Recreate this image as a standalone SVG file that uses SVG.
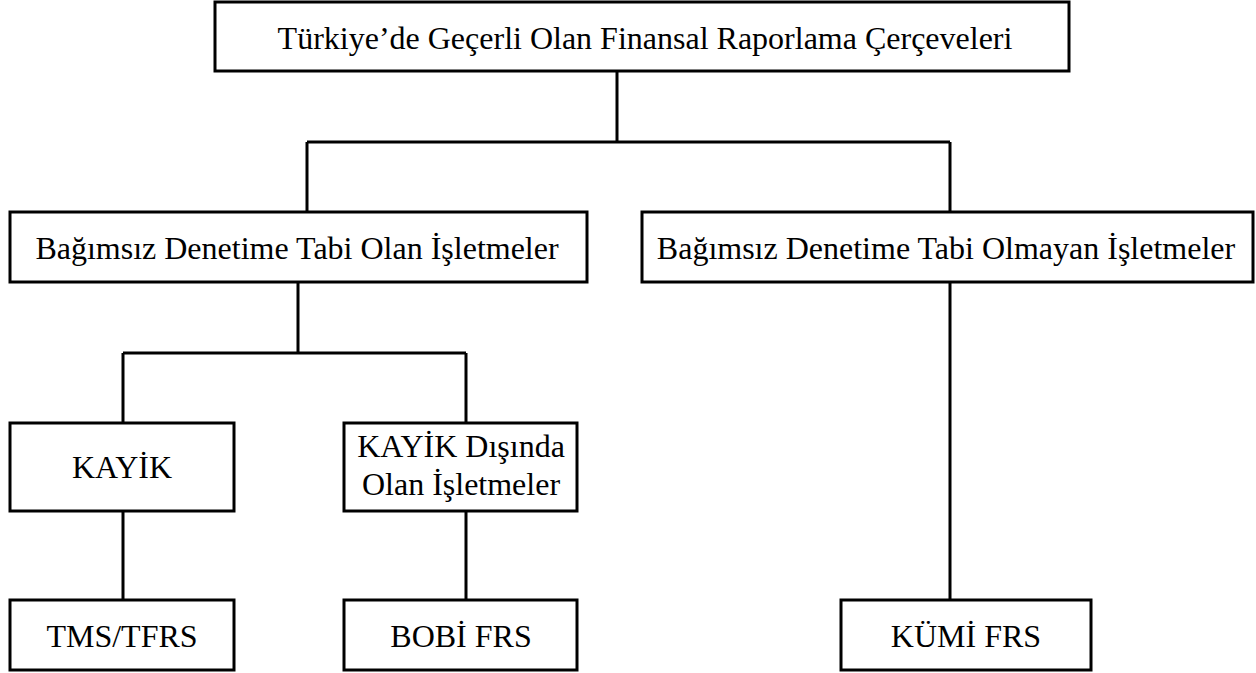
<svg xmlns="http://www.w3.org/2000/svg" width="1256" height="673" viewBox="0 0 1256 673">
<style>
.box{fill:#fff;stroke:#000;stroke-width:3}
.ln{fill:none;stroke:#000;stroke-width:3}
.t{font-family:"Liberation Serif","Times New Roman",serif;font-size:32px;fill:#000;text-anchor:middle}
</style>
<rect width="1256" height="673" fill="#fff"/>
<g id="connectors">
<path class="ln" d="M617 71V142M307 142H950M307 142V212M950 142V212"/>
<path class="ln" d="M298 282V353M123 353H466M123 353V423M466 353V423"/>
<path class="ln" d="M123 511V600M466 511V600M950 282V600"/>
</g>
<g id="root"><rect class="box" x="215" y="2" width="854" height="69"/><text class="t" x="645" y="49">Türkiye’de Geçerli Olan Finansal Raporlama Çerçeveleri</text></g>
<g id="tabi"><rect class="box" x="10" y="212" width="577" height="70"/><text class="t" x="297" y="259">Bağımsız Denetime Tabi Olan İşletmeler</text></g>
<g id="tabi-olmayan"><rect class="box" x="642" y="212" width="611" height="70"/><text class="t" x="946" y="259">Bağımsız Denetime Tabi Olmayan İşletmeler</text></g>
<g id="kayik"><rect class="box" x="10" y="423" width="224" height="88"/><text class="t" x="122" y="478">KAYİK</text></g>
<g id="kayik-disi"><rect class="box" x="344" y="423" width="233" height="88"/><text class="t" x="461" y="457">KAYİK Dışında</text><text class="t" x="461" y="495">Olan İşletmeler</text></g>
<g id="tms"><rect class="box" x="10" y="600" width="224" height="70"/><text class="t" x="122" y="647">TMS/TFRS</text></g>
<g id="bobi"><rect class="box" x="344" y="600" width="233" height="70"/><text class="t" x="461" y="647">BOBİ FRS</text></g>
<g id="kumi"><rect class="box" x="841" y="600" width="250" height="70"/><text class="t" x="966" y="647">KÜMİ FRS</text></g>
</svg>
